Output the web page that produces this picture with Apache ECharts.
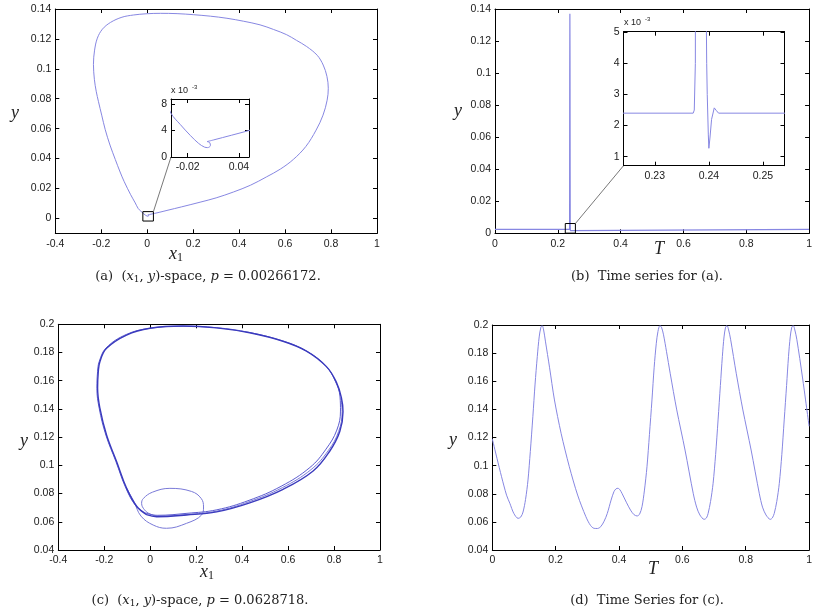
<!DOCTYPE html>
<html>
<head>
<meta charset="utf-8">
<script src="https://cdn.jsdelivr.net/npm/echarts@6/dist/echarts.min.js"></script>
<style>
  html, body { margin: 0; padding: 0; background: #fff; }
  #chart { width: 815px; height: 614px; }
</style>
</head>
<body>
<div id="chart"></div>
<script>
// ---------- (a) limit cycle in (x1, y)-space, p = 0.00266172 ----------
const aX1 = [
  0.0027, 0.0104, 0.0517, 0.086, 0.15, 0.230, 0.300, 0.375, 0.450, 0.520,
  0.580, 0.636, 0.690, 0.735, 0.765, 0.783, 0.788, 0.782, 0.766, 0.740,
  0.694, 0.650, 0.607, 0.550, 0.491, 0.420, 0.347, 0.275, 0.201, 0.130,
  0.057, -0.005, -0.059, -0.110, -0.160, -0.195, -0.217, -0.229, -0.234, -0.230,
  -0.222, -0.212, -0.198, -0.183, -0.162, -0.139, -0.118, -0.100, -0.072, -0.052,
  -0.0394, -0.0285, -0.0168, -0.0071, -0.0004, 0.0034, 0.0066, 0.0058, 0.0027];
const aY = [
  0.00233, 0.00258, 0.0040, 0.0053, 0.0077, 0.0108, 0.0137, 0.0176, 0.0222, 0.0278,
  0.0330, 0.0394, 0.0480, 0.0590, 0.0690, 0.0790, 0.0870, 0.0950, 0.1025, 0.1090,
  0.1149, 0.1190, 0.1228, 0.1263, 0.1294, 0.1318, 0.1338, 0.1352, 0.1362, 0.1369,
  0.1371, 0.1368, 0.1360, 0.1345, 0.1310, 0.1265, 0.1205, 0.1125, 0.1030, 0.0930,
  0.0850, 0.0780, 0.0690, 0.0595, 0.0490, 0.0394, 0.0310, 0.0245, 0.0158, 0.0103,
  0.0066, 0.0049, 0.00325, 0.00205, 0.00150, 0.00142, 0.00172, 0.00218, 0.00233];
const aXTicks = [-0.4, -0.2, 0, 0.2, 0.4, 0.6, 0.8, 1];
const aYTicks = [0, 0.02, 0.04, 0.06, 0.08, 0.1, 0.12, 0.14];
const aZoomX = [-0.019, 0.027];          // highlighted region near the origin
const aZoomY = [-0.0018, 0.0045];
const aInsetXRange = [-0.0394, 0.0517];
const aInsetYRange = [0, 0.00876];
const aInsetXTicks = [-0.02, 0.04];
const aInsetYTicks = [0, 0.004, 0.008];

// ---------- (b) time series for (a) ----------
const bT = [0, 0.2371, 0.2373, 0.2375, 0.2377, 0.2380, 0.2384, 0.2388, 0.2392, 0.2395, 0.2396, 0.2397,
  0.2399, 0.2400, 0.2402, 0.2405, 0.2410, 0.2414, 0.2418, 1];
const bY = [0.0024, 0.0024, 0.0025, 0.0040, 0.03, 0.10, 0.137, 0.11, 0.04, 0.0060, 0.0040, 0.0030,
  0.0017, 0.00127, 0.0016, 0.0022, 0.00257, 0.00248, 0.0024, 0.0024];
const bXTicks = [0, 0.2, 0.4, 0.6, 0.8, 1];
const bYTicks = [0, 0.02, 0.04, 0.06, 0.08, 0.1, 0.12, 0.14];
const bZoomX = [0.2238, 0.2560];
const bZoomY = [0.0001, 0.0061];
const bInsetXRange = [0.2242, 0.2540];
const bInsetYRange = [0.00071, 0.00502];
const bInsetXTicks = [0.23, 0.24, 0.25];
const bInsetYTicks = [0.001, 0.002, 0.003, 0.004, 0.005];

// ---------- (c) (x1, y)-space, p = 0.0628718 ----------
// first and second passes around the large cycle
const cX1a = [-0.016, 0.028, 0.158, 0.289, 0.433, 0.578, 0.709, 0.781, 0.825, 0.839, 0.832, 0.810, 0.767,
  0.680, 0.578, 0.433, 0.289, 0.143, -0.001, -0.103, -0.190, -0.219, -0.226, -0.229, -0.219, -0.190,
  -0.146, -0.103, -0.059, -0.016];
const cYa = [0.0651, 0.0636, 0.0648, 0.0670, 0.0734, 0.0830, 0.0960, 0.1100, 0.1240, 0.1380, 0.1480,
  0.1590, 0.1700, 0.1810, 0.1880, 0.1940, 0.1975, 0.1988, 0.1972, 0.1924, 0.1830, 0.1735, 0.1664,
  0.1546, 0.1405, 0.1215, 0.1026, 0.0839, 0.0710, 0.0651];
const cX1b = [-0.02, 0.03, 0.16, 0.29, 0.43, 0.57, 0.695, 0.765, 0.812, 0.828, 0.826, 0.806, 0.764,
  0.678, 0.576, 0.432, 0.288, 0.143, 0.0, -0.104, -0.192, -0.222, -0.229, -0.232, -0.222, -0.193,
  -0.149, -0.106, -0.062, -0.02];
const cYb = [0.0662, 0.0646, 0.0660, 0.0685, 0.0752, 0.0852, 0.0985, 0.1115, 0.1250, 0.1385, 0.1485,
  0.1595, 0.1705, 0.1812, 0.1882, 0.1942, 0.1976, 0.1986, 0.1972, 0.1928, 0.1832, 0.1735, 0.1664,
  0.1546, 0.1405, 0.1215, 0.1026, 0.0839, 0.0712, 0.0662];
// excursion through the small loop
const cX1c = [-0.103, -0.07, -0.04, 0.013, 0.071, 0.158, 0.2235, 0.232, 0.222, 0.18, 0.0857, 0.01,
  -0.03, -0.0374, -0.025, 0.0, 0.04, 0.16, 0.29, 0.43, 0.575, 0.70, 0.775, 0.82, 0.835, 0.83];
const cYc = [0.0839, 0.0740, 0.0640, 0.0577, 0.0554, 0.0589, 0.0648, 0.0705, 0.0765, 0.0815, 0.0837,
  0.0810, 0.0765, 0.0731, 0.0685, 0.0655, 0.0640, 0.0652, 0.0676, 0.0742, 0.0842, 0.0970, 0.1105,
  0.1240, 0.1380, 0.1480];
const cXTicks = [-0.4, -0.2, 0, 0.2, 0.4, 0.6, 0.8, 1];
const cYTicks = [0.04, 0.06, 0.08, 0.1, 0.12, 0.14, 0.16, 0.18, 0.2];

// ---------- (d) time series for (c) ----------
const dT = [
  0, 0.015, 0.0292, 0.045, 0.0554, 0.068, 0.0815, 0.09, 0.097, 0.105,
  0.1127, 0.12, 0.128, 0.135, 0.142, 0.148, 0.1535, 0.1575, 0.162, 0.168,
  0.1806, 0.1962, 0.2172, 0.2432, 0.2693, 0.2954, 0.31, 0.3214, 0.332, 0.3423,
  0.353, 0.363, 0.375, 0.384, 0.3905, 0.3966, 0.403, 0.41, 0.423, 0.4363,
  0.447, 0.457, 0.465, 0.4726, 0.48, 0.4883, 0.496, 0.504, 0.511, 0.5177,
  0.523, 0.529, 0.534, 0.5405, 0.55, 0.5615, 0.5823, 0.6084, 0.6345, 0.645,
  0.6553, 0.6688, 0.676, 0.6813, 0.689, 0.697, 0.705, 0.7127, 0.72, 0.7262,
  0.7315, 0.7365, 0.741, 0.746, 0.7525, 0.77, 0.791, 0.817, 0.843, 0.853,
  0.864, 0.8776, 0.884, 0.890, 0.898, 0.906, 0.914, 0.9215, 0.929, 0.935,
  0.9405, 0.9455, 0.95, 0.955, 0.9615, 0.979, 1.0];
const dY = [
  0.119, 0.105, 0.0921, 0.079, 0.0732, 0.066, 0.0625, 0.0635, 0.067, 0.076,
  0.0898, 0.11, 0.1348, 0.158, 0.1775, 0.1915, 0.1985, 0.1995, 0.1965, 0.188,
  0.170, 0.1467, 0.123, 0.0992, 0.0791, 0.0637, 0.0575, 0.0554, 0.0553, 0.0566,
  0.0605, 0.066, 0.0755, 0.0815, 0.0835, 0.0839, 0.0828, 0.080, 0.074, 0.0684,
  0.0652, 0.0642, 0.0655, 0.0708, 0.082, 0.0992, 0.122, 0.1467, 0.170, 0.187,
  0.1955, 0.1995, 0.1985, 0.193, 0.181, 0.1657, 0.1396, 0.1111, 0.080, 0.0705,
  0.0649, 0.0618, 0.0628, 0.066, 0.0745, 0.0874, 0.108, 0.1325, 0.157, 0.1775,
  0.1915, 0.1985, 0.1995, 0.1965, 0.1895, 0.1657, 0.1396, 0.1111, 0.080, 0.0705,
  0.0649, 0.0618, 0.0628, 0.066, 0.0745, 0.0874, 0.108, 0.1325, 0.157, 0.1775,
  0.1915, 0.1985, 0.1995, 0.1965, 0.1895, 0.163, 0.128];
const dXTicks = [0, 0.2, 0.4, 0.6, 0.8, 1];
const dYTicks = [0.04, 0.06, 0.08, 0.1, 0.12, 0.14, 0.16, 0.18, 0.2];

// ---------------------------------------------------------------------
const LINE = '#8787e2';
const SANS = 'Liberation Sans';
const SERIF = 'Liberation Serif';
const CAPTION_SERIF = 'DejaVu Serif';

const pairs = (xs, ys) => xs.map((x, i) => [x, ys[i]]);
const boxPath = (xr, yr) => [[xr[0], yr[0]], [xr[1], yr[0]], [xr[1], yr[1]], [xr[0], yr[1]], [xr[0], yr[0]]];
const plainFmt = v => String(parseFloat(v.toFixed(4)));
const milliFmt = v => String(Math.round(v * 1000));

const grids = [], xAxes = [], yAxes = [], series = [];

function axisPair(dim, gi, range, ticks, fmt, z) {
  const make = (primary) => ({
    type: 'value', gridIndex: gi, min: range[0], max: range[1], z: z,
    position: dim === 'x' ? (primary ? 'bottom' : 'top') : (primary ? 'left' : 'right'),
    splitLine: { show: false },
    axisLine: { show: true, onZero: false, lineStyle: { color: '#000', width: 1 } },
    axisTick: { show: true, inside: true, length: 4, customValues: ticks.slice(), lineStyle: { color: '#000', width: 1 } },
    axisLabel: primary ? {
      show: true, customValues: ticks.slice(), formatter: fmt, color: '#1a1a1a',
      fontFamily: SANS, fontSize: 10.5, margin: dim === 'x' ? 5 : 4
    } : { show: false }
  });
  return [make(true), make(false)];
}

// one panel: grid box in pixels plus its ranges; returns the axis index its series use
function addPanel(box, xr, yr, xt, yt, xf, yf, inset) {
  const gi = grids.length;
  grids.push(Object.assign({
    containLabel: false,
    show: !!inset, backgroundColor: '#fff', borderWidth: 0, z: inset ? 5 : 0
  }, box));
  const z = inset ? 6 : 0;
  xAxes.push(...axisPair('x', gi, xr, xt, xf, z));
  yAxes.push(...axisPair('y', gi, yr, yt, yf, z));
  return 2 * gi;
}

function addLine(ai, data, color, width, z, smooth) {
  series.push({
    type: 'line', xAxisIndex: ai, yAxisIndex: ai, data: data, showSymbol: false, symbol: 'none',
    smooth: smooth, z: z, silent: true, animation: false, clip: true,
    lineStyle: { color: color, width: width }
  });
}

// (a)
const axA = addPanel({ left: 55.3, right: 438, top: 9, bottom: 380.7 }, [-0.4, 1], [-0.01, 0.14],
  aXTicks, aYTicks, plainFmt, plainFmt, false);
const axAi = addPanel({ left: 171, top: 99, width: 78, height: 58 }, aInsetXRange, aInsetYRange,
  aInsetXTicks, aInsetYTicks, plainFmt, milliFmt, true);
addLine(axA, pairs(aX1, aY), LINE, 1, 2, 0.35);
addLine(axA, boxPath(aZoomX, aZoomY), '#000', 1, 3, false);
addLine(axAi, pairs(aX1, aY), LINE, 1, 7, 0.35);

// (b)
const axB = addPanel({ left: 495, right: -3, top: 9, bottom: 380.7 }, [0, 1], [0, 0.14],
  bXTicks, bYTicks, plainFmt, plainFmt, false);
const axBi = addPanel({ left: 623.5, top: 31.7, width: 161, height: 134 }, bInsetXRange, bInsetYRange,
  bInsetXTicks, bInsetYTicks, plainFmt, milliFmt, true);
addLine(axB, pairs(bT, bY), LINE, 1.2, 2, false);
addLine(axB, boxPath(bZoomX, bZoomY), '#000', 1, 3, false);
addLine(axBi, pairs(bT, bY), LINE, 1, 7, false);

// (c)
const axC = addPanel({ left: 58.3, right: 435, top: 324.3, bottom: 64 }, [-0.4, 1], [0.04, 0.2],
  cXTicks, cYTicks, plainFmt, plainFmt, false);
addLine(axC, pairs(cX1c, cYc), '#7a7ad8', 1, 2, 0.4);
addLine(axC, pairs(cX1b, cYb), '#5c5cd0', 1, 2, 0.4);
addLine(axC, pairs(cX1a, cYa), '#3a3abd', 1.4, 3, 0.4);

// (d)
const axD = addPanel({ left: 492.3, right: 3, top: 325, bottom: 64 }, [0, 1], [0.04, 0.2],
  dXTicks, dYTicks, plainFmt, plainFmt, false);
addLine(axD, pairs(dT, dY), LINE, 1, 2, 0.3);

// text: axis names, exponents, captions
function mathLabel(x, y, tokens) {
  return {
    type: 'text', x: x, y: y, z: 20, silent: true,
    style: {
      text: tokens, align: 'center', verticalAlign: 'middle', fill: '#222',
      rich: {
        i: { fontFamily: SERIF, fontStyle: 'italic', fontSize: 18, lineHeight: 20, fill: '#222', verticalAlign: 'middle' },
        s: { fontFamily: SERIF, fontSize: 12, lineHeight: 20, fill: '#222', verticalAlign: 'bottom', padding: [8, 0, 0, 0] }
      }
    }
  };
}
function caption(x, y, tokens) {
  return {
    type: 'text', x: x, y: y, z: 20, silent: true,
    style: {
      text: tokens, align: 'center', verticalAlign: 'middle', fill: '#222',
      rich: {
        r: { fontFamily: CAPTION_SERIF, fontSize: 13, lineHeight: 18, fill: '#222' },
        i: { fontFamily: CAPTION_SERIF, fontStyle: 'italic', fontSize: 13, lineHeight: 18, fill: '#222' },
        s: { fontFamily: CAPTION_SERIF, fontSize: 9, lineHeight: 18, fill: '#222', padding: [6, 0, 0, 0] }
      }
    }
  };
}
function exponent(x, y) {
  return [
    { type: 'text', x: x, y: y, z: 20, silent: true,
      style: { text: 'x 10', fontFamily: SANS, fontSize: 9, fill: '#222', align: 'left', verticalAlign: 'middle' } },
    { type: 'text', x: x + 21, y: y - 4, z: 20, silent: true,
      style: { text: '-3', fontFamily: SANS, fontSize: 6, fill: '#222', align: 'left', verticalAlign: 'middle' } }
  ];
}

const graphics = [
  mathLabel(15, 113, '{i|y}'),
  mathLabel(176, 254, '{i|x}{s|1}'),
  mathLabel(458, 111, '{i|y}'),
  mathLabel(659, 249, '{i|T}'),
  mathLabel(24, 441, '{i|y}'),
  mathLabel(207, 572, '{i|x}{s|1}'),
  mathLabel(453, 440, '{i|y}'),
  mathLabel(653, 569, '{i|T}'),
  ...exponent(171, 91),
  ...exponent(624, 23),
  caption(208, 277, '{r|(a)  (}{i|x}{s|1}{r|, }{i|y}{r|)-space, }{i|p}{r| = 0.00266172.}'),
  caption(647, 277, '{r|(b)  Time series for (a).}'),
  caption(200, 601, '{r|(c)  (}{i|x}{s|1}{r|, }{i|y}{r|)-space, }{i|p}{r| = 0.0628718.}'),
  caption(647, 601, '{r|(d)  Time Series for (c).}')
];

const chart = echarts.init(document.getElementById('chart'), null, { renderer: 'canvas' });
chart.setOption({
  animation: false,
  backgroundColor: '#fff',
  grid: grids,
  xAxis: xAxes,
  yAxis: yAxes,
  series: series,
  graphic: { elements: graphics }
});

// leader lines from each highlighted box to the corner of its magnified view
function leader(mainAx, corner, insetAx, insetCorner) {
  const p1 = chart.convertToPixel({ xAxisIndex: mainAx, yAxisIndex: mainAx }, corner);
  const p2 = chart.convertToPixel({ xAxisIndex: insetAx, yAxisIndex: insetAx }, insetCorner);
  return {
    type: 'line', z: 4, silent: true,
    shape: { x1: p1[0], y1: p1[1], x2: p2[0], y2: p2[1] },
    style: { stroke: '#555', lineWidth: 0.8 }
  };
}
chart.setOption({
  graphic: {
    elements: graphics.concat([
      leader(axA, [aZoomX[1], aZoomY[1]], axAi, [aInsetXRange[0], aInsetYRange[0]]),
      leader(axB, [bZoomX[1], bZoomY[1]], axBi, [bInsetXRange[0], bInsetYRange[0]])
    ])
  }
});
</script>
</body>
</html>
